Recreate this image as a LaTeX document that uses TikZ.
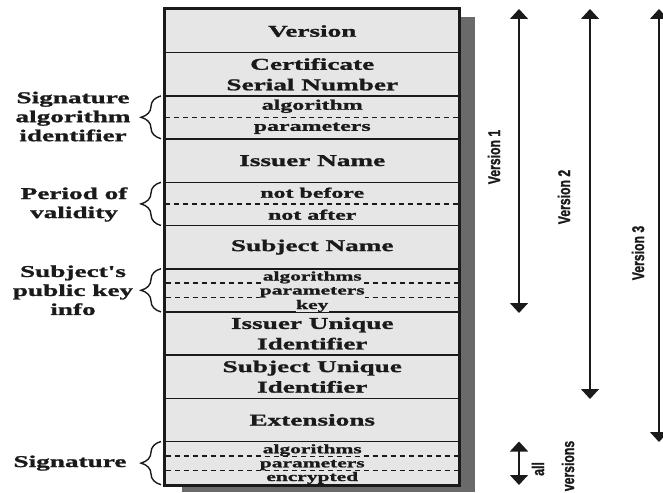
\documentclass[tikz,border=0pt]{standalone}
\usepackage{fontspec}
\usetikzlibrary{arrows.meta,decorations.pathreplacing}
\newfontfamily\fserif[FakeStretch=1.65, BoldFeatures={FakeBold=1.3}]{Liberation Serif}
\newfontfamily\fcond[FakeStretch=0.72, BoldFeatures={FakeBold=1.2}]{Liberation Sans}
\definecolor{boxgray}{HTML}{E6E6E6}
\definecolor{shadowgray}{HTML}{6A6A6A}
\definecolor{ink}{HTML}{1A1A1A}
\begin{document}
\begin{tikzpicture}[x=1pt,y=-1pt,
  row/.style={draw=ink, line width=1.6pt, fill=boxgray, minimum width=293.5pt,
    minimum height=43.2pt, inner sep=0pt, align=center, text=ink,
    font=\fserif\bfseries\fontsize{16.5}{20.5}\selectfont},
  small/.style={font=\fserif\bfseries\fontsize{14.5}{16}\selectfont, text=ink,
    fill=boxgray, inner sep=0.4pt},
  tiny/.style={font=\fserif\bfseries\fontsize{13}{14}\selectfont, text=ink,
    fill=boxgray, inner sep=0.3pt, anchor=base},
  dashline/.style={draw=ink, line width=1.3pt, dash pattern=on 5.5pt off 3.5pt},
  frame/.style={draw=ink, line width=2.6pt},
  side/.style={font=\fserif\bfseries\fontsize{16.5}{19}\selectfont, align=center, text=ink},
  bracestyle/.style={draw=ink, line width=1.4pt, decorate,
    decoration={brace, amplitude=20pt}},
  vline/.style={draw=ink, line width=1.6pt, {Triangle[width=18pt,length=10pt]}-{Triangle[width=18pt,length=10pt]}},
  vlabel/.style={font=\fcond\bfseries\fontsize{17}{17}\selectfont, text=ink, rotate=90, inner sep=0pt}
]
\useasboundingbox (0,0) rectangle (663,492);
% shadow
\fill[shadowgray] (182,17) rectangle (475,492);
% rows
\node[row] (r1)  at (312.25,31.1)  {Version};
\node[row] (r2)  at (312.25,74.3)  {Certificate\\Serial Number};
\node[row] (r3)  at (312.25,117.5) {};
\node[row] (r4)  at (312.25,160.7) {Issuer Name};
\node[row] (r5)  at (312.25,203.9) {};
\node[row] (r6)  at (312.25,247.1) {Subject Name};
\node[row] (r7)  at (312.25,290.3) {};
\node[row] (r8)  at (312.25,333.5) {Issuer Unique\\Identifier};
\node[row] (r9)  at (312.25,376.7) {Subject Unique\\Identifier};
\node[row] (r10) at (312.25,419.9) {Extensions};
\node[row] (r11) at (312.25,463.1) {};
% sub rows
\draw[dashline] (r3.west) -- (r3.east);
\node[small] (r3a) at (312.25,106.3) {algorithm};
\node[small] (r3b) at (312.25,128.3) {parameters};
\draw[dashline] (r5.west) -- (r5.east);
\node[small] (r5a) at (312.25,192.7) {not before};
\node[small] (r5b) at (312.25,214.7) {not after};
\coordinate (d7a) at (165.5,283.1); \coordinate (e7a) at (459,283.1);
\coordinate (d7b) at (165.5,297.5); \coordinate (e7b) at (459,297.5);
\draw[dashline] (d7a) -- (e7a);
\draw[dashline] (d7b) -- (e7b);
\node[tiny] (r7a) at (312.25,280.5) {algorithms};
\node[tiny] (r7b) at (312.25,294.5) {parameters};
\node[tiny] (r7c) at (312.25,309) {key};
\coordinate (d11a) at (165.5,455.9); \coordinate (e11a) at (459,455.9);
\coordinate (d11b) at (165.5,470.3); \coordinate (e11b) at (459,470.3);
\draw[dashline] (d11a) -- (e11a);
\draw[dashline] (d11b) -- (e11b);
\node[tiny] (r11a) at (312.25,453.3) {algorithms};
\node[tiny] (r11b) at (312.25,467.3) {parameters};
\node[tiny] (r11c) at (312.25,481) {encrypted};
% outer frame
\draw[frame] (r1.north west) rectangle (r11.south east);
% braces and side labels
\draw[bracestyle] (161,138.7) -- (161,95.9);
\draw[bracestyle] (161,225.5) -- (161,182.3);
\draw[bracestyle] (161,311.9) -- (161,268.7);
\draw[bracestyle] (161,484.7) -- (161,441.5);
\node[side] (s1) at (73,116.5) {Signature\\algorithm\\identifier};
\node[side] (s2) at (74,204.5) {Period of\\validity};
\node[side] (s3) at (73,290.3) {Subject's\\public key\\info};
\node[side] (s4) at (70,463.1) {Signature};
% version arrows
\coordinate (v1t) at (519,9);   \coordinate (v1b) at (519,313);
\coordinate (v2t) at (590,9);   \coordinate (v2b) at (590,399);
\coordinate (v3t) at (659,9);   \coordinate (v3b) at (659,442);
\coordinate (vat) at (519,441.5); \coordinate (vab) at (519,485);
\draw[vline] (v1t) -- (v1b);
\draw[vline] (v2t) -- (v2b);
\draw[vline] (v3t) -- (v3b);
\draw[vline] (vat) -- (vab);
\node[vlabel] (l1) at (494,157) {Version 1};
\node[vlabel] (l2) at (564,197) {Version 2};
\node[vlabel] (l3) at (638,253) {Version 3};
\node[vlabel] (la) at (538,469) {all};
\node[vlabel] (lv) at (568,466) {versions};
\end{tikzpicture}
\end{document}
